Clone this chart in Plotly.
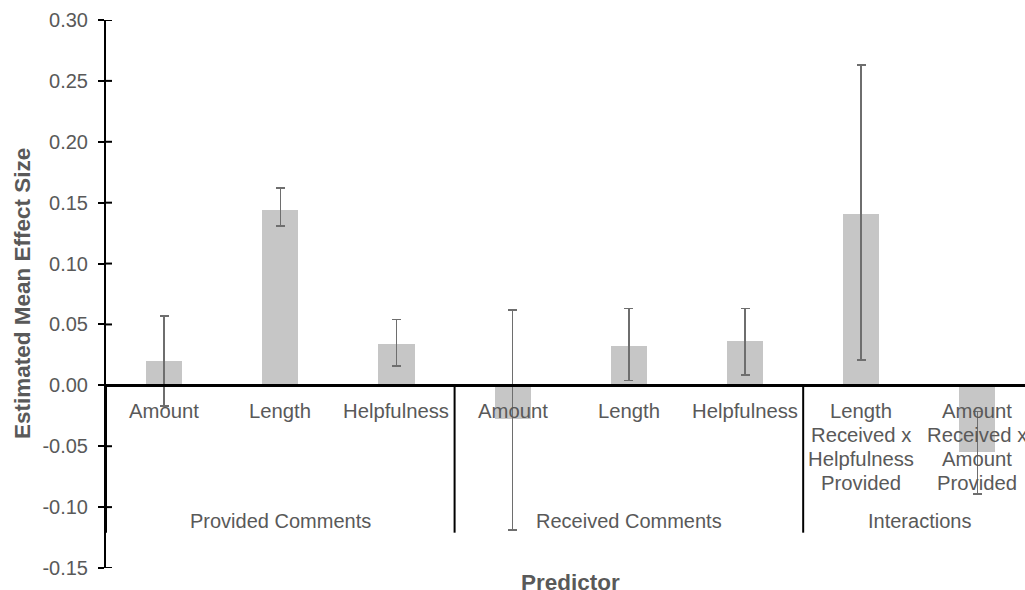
import plotly.graph_objects as go

# Predictor labels (one per bar) and their groups
predictors = [
    "Amount", "Length", "Helpfulness",
    "Amount", "Length", "Helpfulness",
    "Length<br>Received x<br>Helpfulness<br>Provided",
    "Amount<br>Received x<br>Amount<br>Provided",
]
groups = ["Provided Comments", "Received Comments", "Interactions"]
group_sizes = [3, 3, 2]

# Estimated mean effect sizes with interval bounds
effects = [0.020, 0.144, 0.034, -0.028, 0.0325, 0.036, 0.141, -0.055]
upper = [0.057, 0.162, 0.054, 0.062, 0.063, 0.063, 0.263, -0.0215]
lower = [-0.017, 0.131, 0.016, -0.119, 0.004, 0.0086, 0.021, -0.089]

y_ticks = [-0.15, -0.10, -0.05, 0.00, 0.05, 0.10, 0.15, 0.20, 0.25, 0.30]

TEXT = "#595959"
FONT = "Liberation Sans, Arial, sans-serif"

xpos = list(range(len(predictors)))
err_plus = [u - e for u, e in zip(upper, effects)]
err_minus = [e - l for e, l in zip(effects, lower)]

fig = go.Figure()
fig.add_trace(go.Bar(
    x=xpos, y=effects, width=0.31,
    marker=dict(color="#c6c6c6", line=dict(width=0)),
    error_y=dict(type="data", symmetric=False, array=err_plus, arrayminus=err_minus,
                 color="#6e6e6e", thickness=1.6, width=4.5),
    showlegend=False, hoverinfo="skip",
))

shapes = []
# inner half of the crossing y-axis ticks
for v in y_ticks:
    shapes.append(dict(type="line", xref="x", yref="y", xsizemode="pixel", xanchor=-0.5,
                       x0=0, x1=6, y0=v, y1=v, line=dict(color="black", width=2)))
# group dividers below the zero line
DIV_BOTTOM = -0.121
bounds = [-0.5]
acc = -0.5
for n in group_sizes:
    acc += n
    bounds.append(acc)
for b in bounds[:-1]:
    shapes.append(dict(type="line", xref="x", yref="y", x0=b, x1=b, y0=0, y1=DIV_BOTTOM,
                       line=dict(color="black", width=2)))

annotations = []
# category labels, one line at a time, hanging below the zero line
for xp, label in zip(xpos, predictors):
    for i, line in enumerate(label.split("<br>")):
        annotations.append(dict(x=xp, y=0, xref="x", yref="y", yshift=-(26 + 24 * i),
                                text=line, showarrow=False, xanchor="center",
                                yanchor="middle",
                                font=dict(size=20.3, color=TEXT, family=FONT)))
start = -0.5
for g, n in zip(groups, group_sizes):
    annotations.append(dict(x=start + n / 2, y=-0.111, xref="x", yref="y", text=g,
                            showarrow=False, xanchor="center", yanchor="middle",
                            font=dict(size=20, color=TEXT, family=FONT)))
    start += n
# axis titles
annotations.append(dict(x=3.5, y=-0.15, xref="x", yref="y", yshift=-14, text="<b>Predictor</b>",
                        showarrow=False, xanchor="center", yanchor="middle",
                        font=dict(size=22.5, color=TEXT, family=FONT)))
annotations.append(dict(x=0, y=0.5, xref="paper", yref="paper", xshift=-84, textangle=-90,
                        text="<b>Estimated Mean Effect Size</b>", showarrow=False,
                        xanchor="center", yanchor="middle",
                        font=dict(size=22.5, color=TEXT, family=FONT)))

y_min, y_max = y_ticks[0], y_ticks[-1]
fig.update_layout(
    width=1025, height=590,
    margin=dict(l=106, r=0, t=20, b=22),
    plot_bgcolor="white", paper_bgcolor="white",
    font=dict(family=FONT, color=TEXT, size=20),
    xaxis=dict(
        range=[-0.5, 7.409], showticklabels=False,
        showgrid=False, zeroline=False, showline=True, linecolor="black",
        linewidth=2.5, ticks="", anchor="free", position=(0 - y_min) / (y_max - y_min),
    ),
    yaxis=dict(
        range=[y_min, y_max], tickmode="array", tickvals=y_ticks,
        ticktext=[f"{v:.2f}" for v in y_ticks],
        showgrid=False, zeroline=False, showline=True, linecolor="black", linewidth=2,
        ticks="outside", ticklen=6, tickwidth=2, tickcolor="black", ticklabelstandoff=6,
        tickfont=dict(size=20, color=TEXT, family=FONT),
    ),
    shapes=shapes, annotations=annotations, bargap=0,
)

fig.write_html("out.html")
